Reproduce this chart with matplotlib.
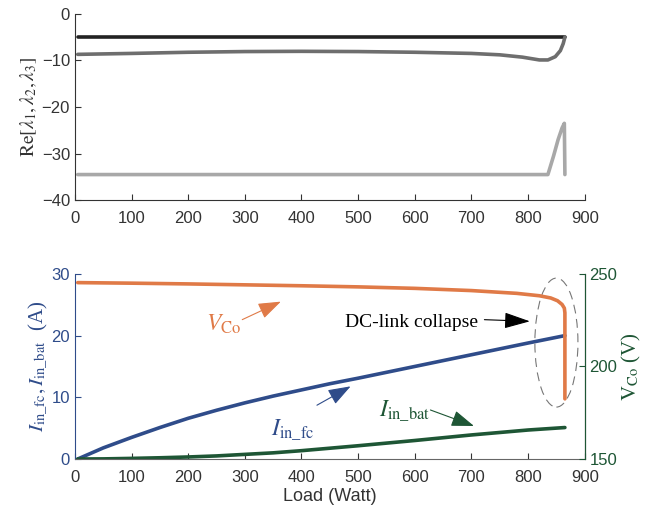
import numpy as np
import matplotlib
matplotlib.use("Agg")
from matplotlib import pyplot as plt
from matplotlib.patches import Ellipse

plt.rcParams['font.family'] = ['Liberation Sans', 'DejaVu Sans']
plt.rcParams['mathtext.fontset'] = 'stix'

# eigenvalue real parts vs load
load_l1 = [5, 865]
lam1 = [-5.0, -5.0]
load_l2 = [5, 100, 200, 300, 400, 500, 600, 700, 750, 790, 820, 835, 848, 857, 862, 865]
lam2 = [-8.7, -8.5, -8.25, -8.1, -8.05, -8.1, -8.25, -8.5, -8.8, -9.3, -9.9, -9.9, -9.2, -7.9, -6.4, -5.0]
load_l3 = [5, 300, 600, 835, 845, 853, 860, 864, 865]
lam3 = [-34.5, -34.5, -34.5, -34.5, -30.5, -27.0, -24.5, -23.5, -34.5]

# currents and DC-link voltage vs load
load_i = [5, 50, 100, 150, 200, 250, 300, 350, 400, 450, 500, 600, 700, 800, 865]
i_fc = [0, 1.8, 3.5, 5.1, 6.6, 7.9, 9.1, 10.2, 11.2, 12.2, 13.1, 15.0, 16.9, 18.8, 20.0]
i_bat = [0, 0.02, 0.1, 0.2, 0.33, 0.5, 0.75, 1.0, 1.35, 1.75, 2.15, 3.0, 3.9, 4.7, 5.1]
load_v = [5, 100, 200, 300, 400, 500, 600, 700, 780, 820, 840, 852, 860, 864, 865, 865]
v_co = [245.3, 245.0, 244.6, 244.1, 243.6, 243.0, 242.2, 241.0, 239.5, 238.2, 237.0, 235.5, 233.5, 231.5, 229.0, 182.5]

blue = '#2f4c8a'
green = '#1e5635'
orange = '#e07a47'
axc = '#333333'

fig = plt.figure(figsize=(6.57, 5.12), dpi=100)

# ---- top: eigenvalues
ax1 = fig.add_axes([0.114, 0.609, 0.776, 0.364])
ax1.plot(load_l1, lam1, color='#222222', lw=2.6, solid_capstyle='round')
ax1.plot(load_l2, lam2, color='#6e6e6e', lw=2.6, solid_capstyle='round')
ax1.plot(load_l3, lam3, color='#a8a8a8', lw=2.6, solid_capstyle='round')
ax1.set_xlim(0, 900)
ax1.set_ylim(-40, 0)
ax1.set_xticks(np.arange(0, 901, 100))
ax1.set_yticks([-40, -30, -20, -10, 0])
ax1.spines['top'].set_visible(False)
ax1.spines['right'].set_visible(False)
for s in ['left', 'bottom']:
    ax1.spines[s].set_color(axc)
ax1.tick_params(direction='in', length=4, colors=axc, labelsize=12)
ax1.tick_params(axis='x', pad=8)
ax1.set_ylabel(r'$\mathrm{Re}[\lambda_1,\lambda_2,\lambda_3]$', fontsize=14, color=axc, labelpad=2)

# ---- bottom: currents and voltage
ax2 = fig.add_axes([0.114, 0.1035, 0.776, 0.3615])
ax2.plot(load_i, i_fc, color=blue, lw=2.6, solid_capstyle='round')
ax2.plot(load_i, i_bat, color=green, lw=2.6, solid_capstyle='round')
ax2.set_xlim(0, 900)
ax2.set_ylim(0, 30)
ax2.set_xticks(np.arange(0, 901, 100))
ax2.set_yticks([0, 10, 20, 30])
ax2.spines['top'].set_visible(False)
ax2.spines['left'].set_color(blue)
ax2.spines['bottom'].set_color('#666666')
ax2.tick_params(axis='x', direction='in', length=4, colors=axc, labelsize=12, pad=8)
ax2.tick_params(axis='y', direction='in', length=4, colors=blue, labelsize=12)
ax2.set_xlabel('Load (Watt)', fontsize=13, color=axc, labelpad=2)
ax2.set_ylabel(r'$I_{\mathrm{in\_fc}}, I_{\mathrm{in\_bat}}$  (A)', fontsize=15,
               color=blue, family='Liberation Serif', labelpad=2)

ax3 = ax2.twinx()
ax3.plot(load_v, v_co, color=orange, lw=2.6, solid_capstyle='round')
ax3.set_ylim(150, 250)
ax3.set_yticks([150, 200, 250])
ax3.spines['top'].set_visible(False)
ax3.spines['left'].set_visible(False)
ax3.spines['bottom'].set_visible(False)
ax3.spines['right'].set_color(green)
ax3.tick_params(axis='y', direction='in', length=4, colors=green, labelsize=12)
ax3.set_ylabel(r'$\mathrm{V}_{\mathrm{Co}}$ (V)', fontsize=15, color=green,
               family='Liberation Serif', labelpad=2)

ax3.add_patch(Ellipse((850, 212.9), 76, 69.7, fill=False, ls=(0, (8, 5)),
                      lw=0.8, ec='#777777'))

# annotations (left-axis data coords)
ax2.text(594, 22.05, 'DC-link collapse', fontsize=14, family='Liberation Serif',
         ha='center', va='center', color='black')
ax2.annotate('', xy=(808, 22.3), xytext=(718, 22.6),
             arrowprops=dict(arrowstyle='-|>,head_length=0.8,head_width=0.25',
                             color='black', lw=0.8, mutation_scale=20))

ax2.text(262, 21.8, r'$V_{\mathrm{Co}}$', fontsize=17, color=orange, ha='center', va='center')
ax2.annotate('', xy=(368, 25.7), xytext=(291, 22.4),
             arrowprops=dict(arrowstyle='-|>,head_length=0.7,head_width=0.25',
                             color=orange, lw=0.8, mutation_scale=20))

ax2.text(384, 4.6, r'$I_{\mathrm{in\_fc}}$', fontsize=17, color=blue, ha='center', va='center')
ax2.annotate('', xy=(491, 12.0), xytext=(423, 8.5),
             arrowprops=dict(arrowstyle='-|>,head_length=0.7,head_width=0.25',
                             color=blue, lw=0.8, mutation_scale=20))

ax2.text(582, 7.7, r'$I_{\mathrm{in\_bat}}$', fontsize=17, color=green, ha='center', va='center')
ax2.annotate('', xy=(709, 5.2), xytext=(623, 8.1),
             arrowprops=dict(arrowstyle='-|>,head_length=0.7,head_width=0.25',
                             color=green, lw=0.8, mutation_scale=20))

fig.savefig('out.png', dpi=100)
